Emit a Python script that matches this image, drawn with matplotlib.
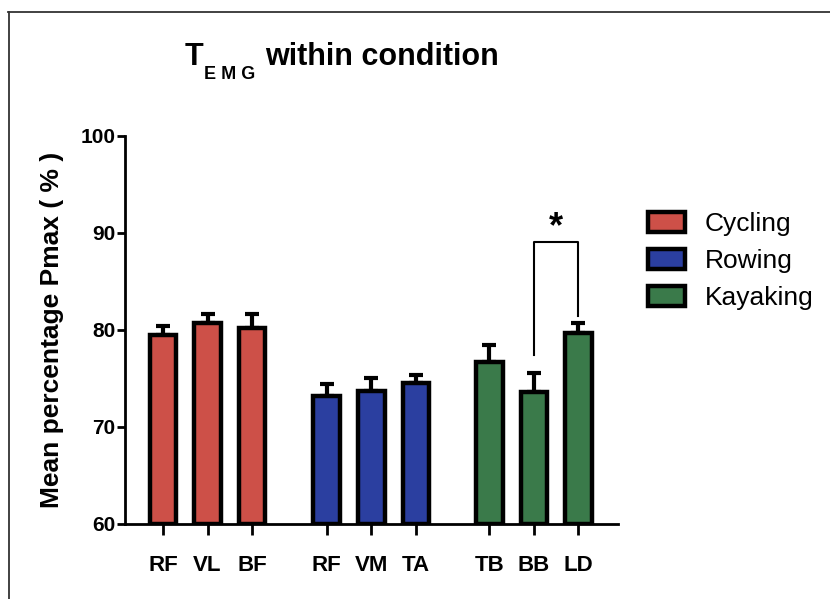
import matplotlib
matplotlib.use("Agg")
import matplotlib.pyplot as plt
from matplotlib.patches import Patch
from matplotlib.lines import Line2D

plt.rcParams['font.family'] = ['Liberation Sans', 'DejaVu Sans']

# Data
muscles = ["RF", "VL", "BF", "RF", "VM", "TA", "TB", "BB", "LD"]
conditions = ["Cycling", "Rowing", "Kayaking"]
means = [79.5, 80.7, 80.2, 73.2, 73.7, 74.5, 76.7, 73.6, 79.7]
sem = [0.9, 0.95, 1.5, 1.2, 1.3, 0.9, 1.8, 2.0, 1.0]
group_of_bar = [0, 0, 0, 1, 1, 1, 2, 2, 2]
positions = [0, 1, 2, 3.68, 4.68, 5.68, 7.33, 8.33, 9.33]
yticks = [60, 70, 80, 90, 100]

colors = ["#cd5048", "#2b3fa0", "#3a7a4a"]

W, H = 830, 599
fig = plt.figure(figsize=(W / 100, H / 100), dpi=100)
fig.patch.set_facecolor("white")

# outer frame (top and left edges)
fig.add_artist(Line2D([8 / W, 1.0], [1 - 12 / H, 1 - 12 / H], color="#333333", lw=1.3))
fig.add_artist(Line2D([9 / W, 9 / W], [1 - 12 / H, 0.0], color="#333333", lw=1.3))

ax_l, ax_r, ax_t, ax_b = 125, 618, 136, 524
ax = fig.add_axes([ax_l / W, 1 - ax_b / H, (ax_r - ax_l) / W, (ax_b - ax_t) / H])

bar_colors = [colors[g] for g in group_of_bar]
ax.bar(positions, [m - 60 for m in means], bottom=60, width=0.6,
       color=bar_colors, edgecolor="black", linewidth=3.2, zorder=3)
ax.errorbar(positions, means, yerr=[[0] * len(sem), sem], fmt="none",
            ecolor="black", elinewidth=3.0, capsize=5, capthick=3.0, zorder=2)

# significance bracket between BB and LD
xb, xl = positions[7], positions[8]
ax.plot([xb, xb, xl, xl], [77.4, 89.1, 89.1, 81.4], color="black", lw=1.5,
        zorder=4, clip_on=False)
ax.text((xb + xl) / 2, 88.7, "*", ha="center", va="bottom", fontsize=26,
        fontweight="bold")

ax.set_ylim(60, 100)
ax.set_xlim(-0.854, 10.22)
ax.set_yticks(yticks)
ax.set_yticklabels([str(t) for t in yticks], fontsize=15, fontweight="bold")
ax.set_xticks(positions)
ax.set_xticklabels(muscles, fontsize=16, fontweight="bold")
ax.tick_params(axis="y", direction="out", length=6, width=2.0, pad=1)
ax.tick_params(axis="x", direction="out", length=8, width=2.0, pad=14)

for s in ["top", "right"]:
    ax.spines[s].set_visible(False)
for s in ["left", "bottom"]:
    ax.spines[s].set_linewidth(2.0)
ax.set_facecolor("none")

ax.set_ylabel("Mean percentage Pmax ( % )", fontsize=19, fontweight="bold", labelpad=12)

# title with subscript
fig.text(185 / W, 1 - 65 / H, "T", fontsize=22, fontweight="bold",
         ha="left", va="baseline")
fig.text(204 / W, 1 - 79 / H, "E M G", fontsize=13, fontweight="bold",
         ha="left", va="baseline")
fig.text(265 / W, 1 - 65 / H, "within condition", fontsize=22, fontweight="bold",
         ha="left", va="baseline")

handles = [Patch(facecolor=c, edgecolor="black", linewidth=3.2, label=l)
           for c, l in zip(colors, conditions)]
fig.legend(handles=handles, loc="upper left", bbox_to_anchor=(648 / W, 1 - 212 / H),
           frameon=False, fontsize=19, handlelength=1.4, handleheight=0.76,
           handletextpad=0.75, labelspacing=0.5, borderpad=0, borderaxespad=0)

fig.savefig("out.png", dpi=100)
